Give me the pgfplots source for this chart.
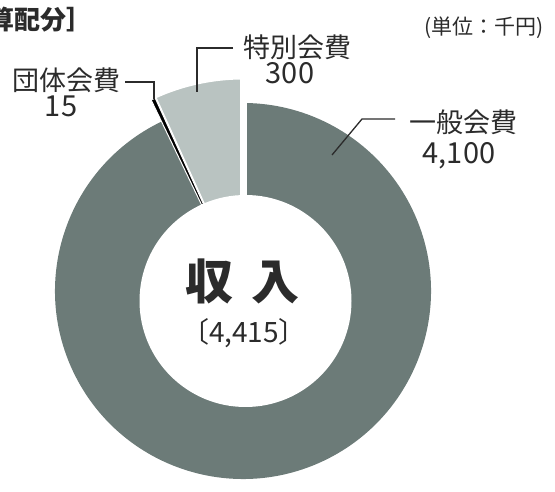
\documentclass[border=0pt]{standalone}
\usepackage{pgfplots}
\pgfplotsset{compat=1.18}
\usepackage{pgfplotstable}
\usepackage{fontspec}
\setmainfont{Noto Sans CJK JP}
\definecolor{dark}{HTML}{6C7B78}
\definecolor{light}{HTML}{B9C3C1}
\definecolor{ink}{HTML}{2B2B2B}

\pgfplotstableread{
name value
一般会費 4100
団体会費 15
特別会費 300
}\slices

\begin{document}
\begin{tikzpicture}
\begin{axis}[scale only axis, width=555bp, height=492bp,
  xmin=0, xmax=555, ymin=0, ymax=492, hide axis, clip=false]
\pgfplotstablegetelem{0}{value}\of\slices \let\vA\pgfplotsretval
\pgfplotstablegetelem{1}{value}\of\slices \let\vB\pgfplotsretval
\pgfplotstablegetelem{2}{value}\of\slices \let\vC\pgfplotsretval
\pgfmathsetmacro\tot{\vA+\vB+\vC}
\pgfmathsetmacro\cC{90+360*(\vC/\tot)}
\pgfmathsetmacro\cB{\cC+360*(\vB/\tot)}
\coordinate (C) at (axis cs:243,201);
\coordinate (BL) at (axis cs:0,0);
\coordinate (TR) at (axis cs:555,492);
% 一般会費
\fill[dark] (C) -- ++(\cB:188bp) arc[start angle=\cB, end angle=450, radius=188bp] -- cycle;
% 特別会費
\filldraw[fill=light, draw=white, line width=3bp, line join=bevel] (C) -- ++(90:213bp) arc[start angle=90, end angle=\cC, radius=213bp] -- cycle;
\draw[white, line width=7bp] (C) -- ++(90:216bp);
% 団体会費
\filldraw[fill=black, draw=white, line width=1bp, line join=bevel] (C) -- ++(\cC:212bp) arc[start angle=\cC, end angle=\cB, radius=212bp] -- cycle;
% hole
\fill[white] (axis cs:245.5,191) circle[radius=106bp];
% leaders
\draw[ink, line width=1.3bp] (axis cs:233,444) -- (axis cs:197,444) -- (axis cs:197,400);
\draw[ink, line width=1.3bp] (axis cs:395,373) -- (axis cs:362,373) -- (axis cs:332,337);
\draw[ink, line width=1.3bp] (axis cs:125,410) -- (axis cs:154,410) -- (axis cs:154,393);
% labels
\begin{scope}[every node/.style={inner sep=0pt, anchor=base, text=ink, font=\fontsize{27bp}{30bp}\selectfont}]
\node at (axis cs:297.5,434) {特別会費};
\node[font=\fontsize{29bp}{30bp}\selectfont] at (axis cs:290,408) {300};
\node at (axis cs:463,359) {一般会費};
\node[font=\fontsize{29bp}{30bp}\selectfont] at (axis cs:459,328) {4,100};
\node at (axis cs:66.5,401) {団体会費};
\node[font=\fontsize{29bp}{30bp}\selectfont] at (axis cs:61,375) {15};
\node[font=\fontsize{28bp}{30bp}\selectfont] at (axis cs:244,149) {〔4,415〕};
\node[font=\fontsize{48bp}{50bp}\selectfont\bfseries] at (axis cs:209,192) {収};
\node[font=\fontsize{48bp}{50bp}\selectfont\bfseries] at (axis cs:275,192) {入};
\node[font=\fontsize{21bp}{23bp}\selectfont] at (axis cs:484,457) {(単位：千円)};
\node[anchor=base west, font=\fontsize{26bp}{28bp}\selectfont\bfseries] at (axis cs:-38,462) {予算配分］};
\end{scope}
\end{axis}
\pgfresetboundingbox
\path[use as bounding box] (BL) rectangle (TR);
\end{tikzpicture}
\end{document}
